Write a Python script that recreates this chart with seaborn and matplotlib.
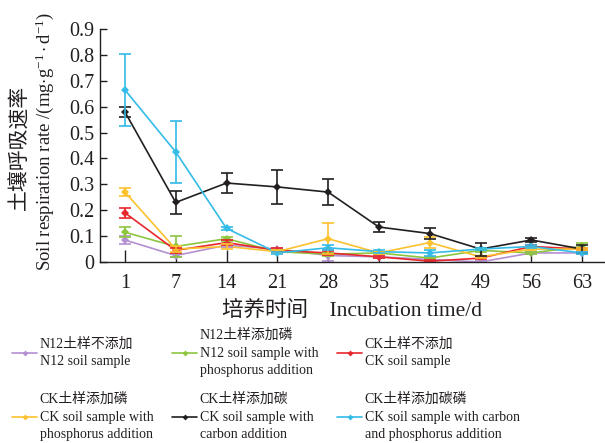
import numpy as np
import pandas as pd
import matplotlib
matplotlib.use("Agg")
import matplotlib.pyplot as plt
import seaborn as sns

# Sampling days (incubation time, d)
days = [1, 7, 14, 21, 28, 35, 42, 49, 56, 63]

# Mean soil respiration rate (mg·g^-1·d^-1) for each treatment
n12 = [0.085, 0.025, 0.065, 0.050, 0.025, 0.020, 0.010, 0.000, 0.035, 0.035]
n12_p = [0.115, 0.060, 0.090, 0.040, 0.030, 0.035, 0.015, 0.045, 0.035, 0.060]
ck = [0.190, 0.045, 0.075, 0.045, 0.035, 0.020, 0.003, 0.015, 0.060, 0.050]
ck_p = [0.270, 0.050, 0.060, 0.040, 0.090, 0.035, 0.075, 0.020, 0.050, 0.050]
ck_c = [0.580, 0.230, 0.305, 0.290, 0.270, 0.135, 0.110, 0.050, 0.085, 0.050]
ck_cp = [0.665, 0.425, 0.130, 0.035, 0.055, 0.040, 0.035, 0.050, 0.060, 0.035]

# Standard deviations
n12_sd = [0.015, 0.006, 0.006, 0.006, 0.020, 0.005, 0.010, 0.005, 0.005, 0.005]
n12_p_sd = [0.020, 0.040, 0.008, 0.005, 0.005, 0.005, 0.005, 0.005, 0.005, 0.012]
ck_sd = [0.020, 0.010, 0.010, 0.008, 0.008, 0.005, 0.003, 0.005, 0.005, 0.005]
ck_p_sd = [0.015, 0.010, 0.008, 0.005, 0.060, 0.005, 0.020, 0.005, 0.005, 0.005]
ck_c_sd = [0.020, 0.045, 0.040, 0.065, 0.050, 0.020, 0.020, 0.025, 0.008, 0.015]
ck_cp_sd = [0.140, 0.120, 0.005, 0.005, 0.010, 0.005, 0.010, 0.005, 0.005, 0.005]

labels = [
    "N12土样不添加\nN12 soil sample",
    "N12土样添加磷\nN12 soil sample with\nphosphorus addition",
    "CK土样不添加\nCK soil sample",
    "CK土样添加磷\nCK soil sample with\nphosphorus addition",
    "CK土样添加碳\nCK soil sample with\ncarbon addition",
    "CK土样添加碳磷\nCK soil sample with carbon\nand phosphorus addition",
]
colors = ["#b48fd2", "#8cc63f", "#e8262b", "#fcc12e", "#231f20", "#34bbe8"]
means = [n12, n12_p, ck, ck_p, ck_c, ck_cp]
sds = [n12_sd, n12_p_sd, ck_sd, ck_p_sd, ck_c_sd, ck_cp_sd]

INK = "#231f20"

sns.set_theme(style="ticks")
plt.rcParams["font.family"] = ["Liberation Serif", "Noto Sans CJK SC", "DejaVu Serif"]
plt.rcParams["font.weight"] = "light"
plt.rcParams["mathtext.fontset"] = "custom"
plt.rcParams["mathtext.rm"] = "Liberation Serif"
plt.rcParams["mathtext.it"] = "Liberation Serif:italic"

pos = np.arange(len(days))
rows = []
for lab, m in zip(labels, means):
    for p, v in zip(pos, m):
        rows.append({"pos": p, "rate": v, "treatment": lab})
df = pd.DataFrame(rows)

W, H = 605, 443
fig = plt.figure(figsize=(W / 100, H / 100), dpi=100)
ax = fig.add_axes([100 / W, 181 / H, 504 / W, 233 / H])

sns.lineplot(data=df, x="pos", y="rate", hue="treatment", hue_order=labels,
             palette=colors, marker="D", markersize=4, markeredgewidth=0,
             linewidth=1.2, ax=ax, legend=False)
for m, s, c in zip(means, sds, colors):
    ax.errorbar(pos, m, yerr=s, fmt="none", ecolor=c, elinewidth=1.2,
                capsize=4, capthick=1.2)

ax.set_xlim(-0.49, 9.43)
ax.set_ylim(0, 0.9)
ax.set_xticks(pos)
ax.set_xticklabels([str(d) for d in days])
ax.set_yticks(np.arange(0, 0.91, 0.1))
ax.set_yticklabels(["0"] + [f"{v:.1f}" for v in np.arange(0.1, 0.91, 0.1)])
ax.tick_params(axis="x", direction="in", length=9, width=1, labelsize=14.5, pad=9, colors=INK)
ax.tick_params(axis="y", direction="in", length=5, width=1, labelsize=14.5, pad=4, colors=INK)
sns.despine(ax=ax)
for sp in ["left", "bottom"]:
    ax.spines[sp].set_linewidth(1.0)
    ax.spines[sp].set_color(INK)

ax.set_xlabel("培养时间    Incubation time/d", fontsize=15.5, color=INK, labelpad=5)
ax.set_ylabel("")
fig.text(20 / W, 1 - 147 / H, "土壤呼吸速率", rotation=90, ha="center", va="center",
         fontsize=15, color=INK)
fig.text(45 / W, 1 - 141 / H,
         "Soil respiration rate /(mg$\\cdot$g$^{-1}\\cdot$d$^{-1}$)",
         rotation=90, ha="center", va="center", fontsize=13.5, color=INK)

# Legend laid out as a 2 x 3 grid, one entry per cell
col_x = [12, 172, 337]
row_y = [353, 417]
for i, (lab, c) in enumerate(zip(labels, colors)):
    r, k = divmod(i, 3)
    h = plt.Line2D([], [], color=c, marker="D", markersize=3, markeredgewidth=0,
                   linewidth=1.2)
    leg = fig.legend([h], [lab], loc="center left",
                     bbox_to_anchor=(col_x[k] / W, 1 - row_y[r] / H),
                     frameon=False, fontsize=10, handlelength=1.8, handletextpad=0.2,
                     borderpad=0, borderaxespad=0)
    for t in leg.get_texts():
        t.set_linespacing(1.45)
        t.set_color(INK)

fig.savefig("out.png", dpi=100)
